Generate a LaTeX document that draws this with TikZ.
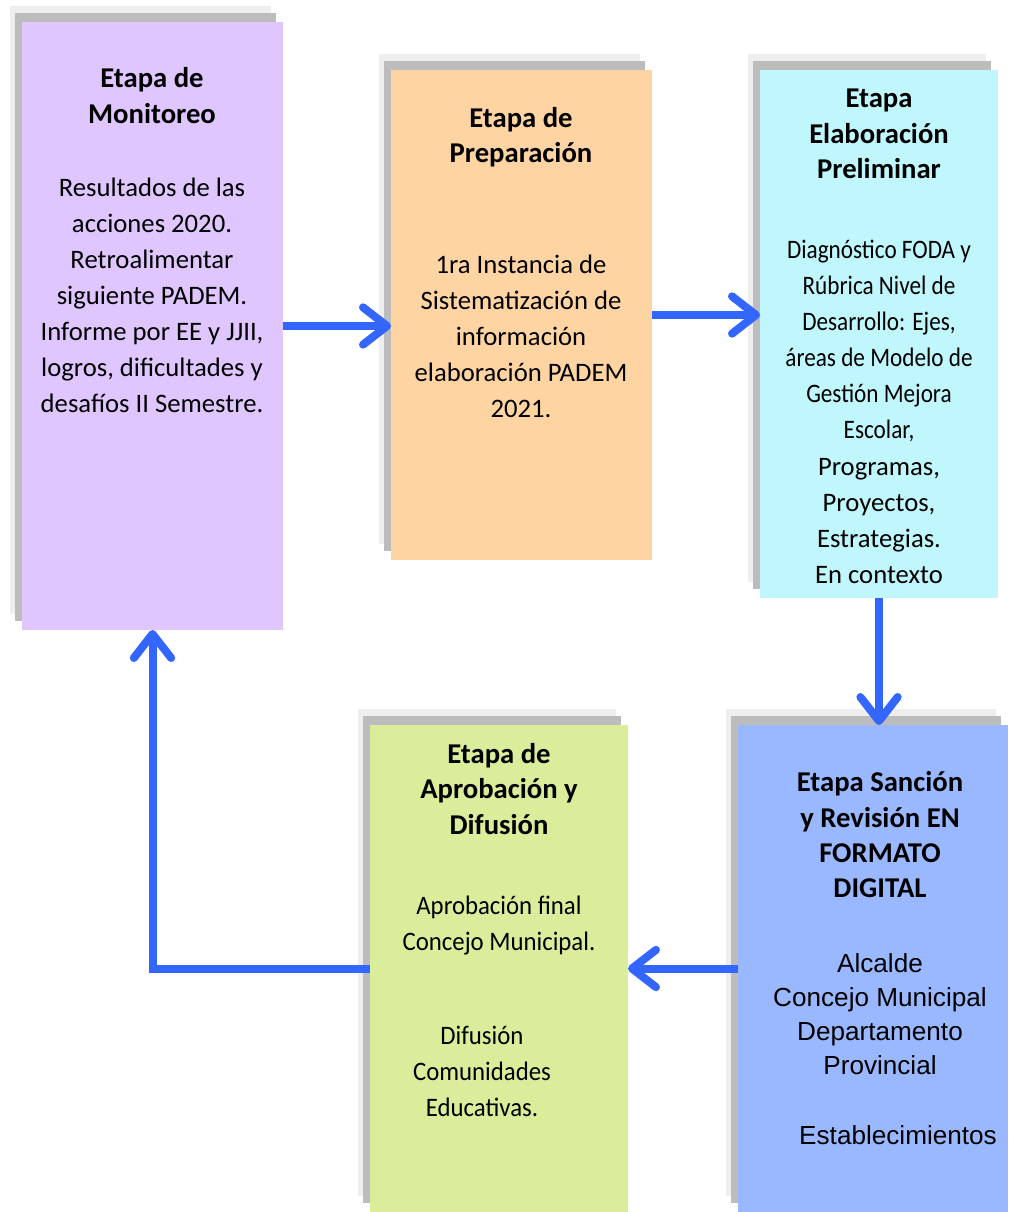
\documentclass[tikz,border=0pt]{standalone}
\usepackage{fontspec}
\setmainfont{Carlito}
\newfontfamily\arialf{Liberation Sans}
\newfontfamily\condf[FakeStretch=0.87]{Carlito}
\newfontfamily\condg[FakeStretch=0.93]{Carlito}
\usetikzlibrary{arrows.meta}
\definecolor{cPurple}{HTML}{E0C6FF}
\definecolor{cPeach}{HTML}{FFD4A3}
\definecolor{cCyan}{HTML}{BFF7FC}
\definecolor{cGreen}{HTML}{D9ED9A}
\definecolor{cBlue}{HTML}{99B8FF}
\definecolor{cArrow}{HTML}{3366FF}
\definecolor{shLight}{HTML}{EEEEEE}
\definecolor{shDark}{HTML}{BCBCBC}
\begin{document}
\begin{tikzpicture}[x=0.75pt,y=-0.75pt,
  stagebox/.style={draw=none,inner sep=0pt,outer sep=0pt},
  ttl/.style={align=center,font=\fontsize{21.5}{26.5}\bfseries\selectfont,inner sep=0pt},
  bdy/.style={align=center,font=\fontsize{20}{27}\selectfont,inner sep=0pt},
  flow/.style={draw=cArrow,line width=6pt,-{Straight Barb[length=18pt,width=28pt,line cap=round,line join=round]}}]
\useasboundingbox (0,0) rectangle (1008,1212);
\fill[white] (0,0) rectangle (1008,1212);
% shadows
\foreach \a/\b/\c/\d in {22/22/283/630,391/70/652/560,760/70/998/598,370/725/628/1212,738/725/1008/1212}{
  \fill[shLight] ({\a-12},{\b-16}) rectangle ({\c-12},{\d-16});
  \fill[shDark] ({\a-7},{\b-9}) rectangle ({\c-7},{\d-9});
}
% boxes
\node[stagebox,fill=cPurple,minimum width=195.75pt,minimum height=456pt] (m1) at (152.5,326) {};
\node[stagebox,fill=cPeach,minimum width=195.75pt,minimum height=367.5pt] (m2) at (521.5,315) {};
\node[stagebox,fill=cCyan,minimum width=178.5pt,minimum height=396pt] (m3) at (879,334) {};
\node[stagebox,fill=cGreen,minimum width=193.5pt,minimum height=365.25pt] (m4) at (499,968.5) {};
\node[stagebox,fill=cBlue,minimum width=202.5pt,minimum height=365.25pt] (m5) at (873,968.5) {};
% texts
\node[ttl] (t1) at (152,95.5) {Etapa de\\Monitoreo};
\node[bdy] (b1) at (152,295) {Resultados de las\\acciones 2020.\\Retroalimentar\\siguiente PADEM.\\Informe por EE y JJII,\\logros, dificultades y\\desafíos II Semestre.};
\node[ttl] (t2) at (521,137.5) {Etapa de\\Preparación};
\node[bdy] (b2) at (521,336.5) {1ra Instancia de\\Sistematización de\\información\\elaboración PADEM\\2021.};
\node[ttl] (t3) at (879,134) {Etapa\\Elaboración\\Preliminar};
\node[bdy,font=\fontsize{20}{27}\condf] (b3a) at (879,341) {Diagnóstico FODA y\\Rúbrica Nivel de\\Desarrollo: Ejes,\\áreas de Modelo de\\Gestión Mejora\\Escolar,};
\node[bdy] (b3b) at (879,521) {Programas,\\Proyectos,\\Estrategias.\\En contexto};
\node[ttl] (t4) at (499,789) {Etapa de\\Aprobación y\\Difusión};
\node[bdy,font=\fontsize{20}{27}\condg] (b4a) at (499,926) {Aprobación final\\Concejo Municipal.};
\node[bdy,font=\fontsize{20}{27}\condg] (b4b) at (482,1071) {Difusión\\Comunidades\\Educativas.};
\node[ttl] (t5) at (880,835) {Etapa Sanción\\y Revisión EN\\FORMATO\\DIGITAL};
\node[bdy,font=\fontsize{19.6}{25.5}\arialf] (b5a) at (880,1014) {Alcalde\\Concejo Municipal\\Departamento\\Provincial};
\node[bdy,font=\fontsize{19.6}{25.5}\arialf] (b5b) at (898,1135) {Establecimientos};
% connectors
\draw[flow] (m1.east) -- (m1.east -| m2.west);
\draw[flow] (m2.east) -- (m2.east -| m3.west);
\draw[flow] (m3.south) -- (m3.south |- m5.north);
\draw[flow] (m5.west) -- (m5.west -| m4.east);
\draw[flow,line join=miter] (m4.west) -| (m1.south);
\end{tikzpicture}
\end{document}
